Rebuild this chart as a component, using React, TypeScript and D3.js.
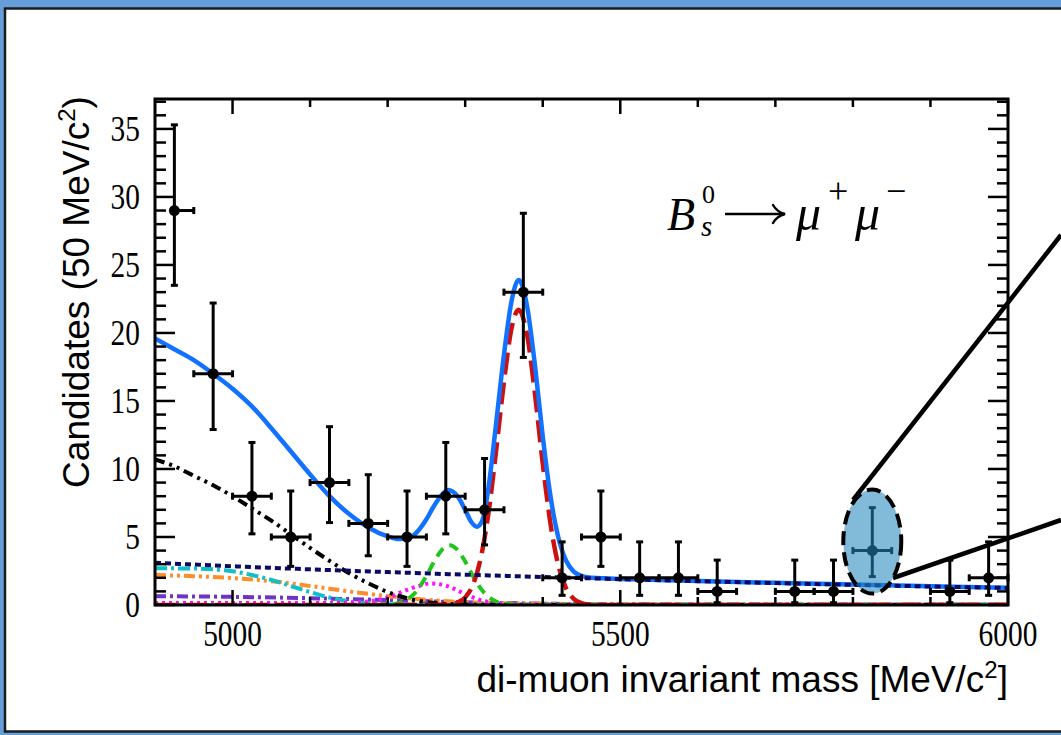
import React from "react";
import * as d3 from "d3";

const W = 1061;
const H = 735;

// Binned di-muon candidates, 50 MeV/c² bins (bin centres in MeV/c²)
const binCenters = [4925, 4975, 5025, 5075, 5125, 5175, 5225, 5275, 5325, 5375, 5425, 5475, 5525, 5575, 5625, 5675, 5725, 5775, 5825, 5875, 5925, 5975];
const counts = [29, 17, 8, 5, 9, 6, 5, 8, 7, 23, 2, 5, 2, 2, 1, 0, 1, 1, 4, 0, 1, 2];
const errLow = [23.5, 12.9, 5.23, 2.84, 6.06, 3.62, 2.84, 5.23, 4.42, 18.2, 0.71, 2.84, 0.71, 0.71, 0.17, 0, 0.17, 0.17, 2.09, 0, 0.17, 0.71];
const errHigh = [35.3, 22.2, 11.95, 8.38, 13.11, 9.58, 8.38, 11.95, 10.77, 28.8, 4.64, 8.38, 4.64, 4.64, 3.3, 1.84, 3.3, 3.3, 7.16, 1.84, 3.3, 4.64];
const binHalfWidth = 25;
const highlightedBin = 5825;

// Fit model: total and components, sampled as [mass, candidates]
const totalFit: [number, number][] = [
  [4900, 19.6], [4925, 18.8], [4950, 18.0], [4975, 17.0], [5000, 15.9], [5025, 14.6], [5050, 13.0],
  [5075, 11.3], [5100, 9.6], [5125, 8.0], [5150, 6.7], [5175, 5.7], [5200, 5.05], [5215, 4.85],
  [5230, 5.0], [5240, 5.5], [5250, 6.3], [5260, 7.3], [5270, 8.1], [5278, 8.45], [5290, 8.0],
  [5300, 7.0], [5308, 6.1], [5315, 5.75], [5322, 6.2], [5330, 8.6], [5340, 13.4], [5350, 18.4],
  [5360, 22.4], [5369, 23.9], [5380, 21.9], [5390, 17.6], [5400, 12.4], [5410, 8.0], [5420, 5.0],
  [5430, 3.27], [5440, 2.46], [5450, 2.14], [5460, 2.02], [5480, 1.96], [5500, 1.92], [5600, 1.77],
  [5700, 1.63], [5800, 1.5], [5900, 1.38], [6000, 1.27],
];
const bsSignal: [number, number][] = [
  [4900, 0], [5260, 0], [5270, 0.01], [5280, 0.05], [5290, 0.18], [5300, 0.56], [5310, 1.49],
  [5320, 3.43], [5330, 6.73], [5340, 11.4], [5350, 16.4], [5360, 20.4], [5369, 21.7], [5380, 19.8],
  [5390, 15.5], [5400, 10.4], [5410, 5.97], [5420, 2.94], [5430, 1.24], [5440, 0.45], [5450, 0.14],
  [5460, 0.04], [5470, 0.01], [5480, 0], [6000, 0],
];
const bdSignal: [number, number][] = [
  [4900, 0], [5180, 0], [5190, 0.01], [5200, 0.03], [5210, 0.09], [5220, 0.25], [5230, 0.6],
  [5240, 1.22], [5250, 2.14], [5260, 3.2], [5270, 4.06], [5280, 4.4], [5290, 4.06], [5300, 3.2],
  [5310, 2.14], [5320, 1.22], [5330, 0.6], [5340, 0.25], [5350, 0.09], [5360, 0.03], [5370, 0.01],
  [5380, 0], [6000, 0],
];
const combinatorial: [number, number][] = [
  [4900, 3.1], [5000, 2.85], [5100, 2.62], [5200, 2.42], [5300, 2.23], [5400, 2.06], [5500, 1.9],
  [5600, 1.75], [5700, 1.61], [5800, 1.48], [5900, 1.36], [6000, 1.25],
];
const partReco: [number, number][] = [
  [4900, 10.7], [4925, 10.2], [4950, 9.5], [4975, 8.8], [5000, 8.0], [5025, 7.1], [5050, 6.2],
  [5075, 5.2], [5100, 4.2], [5125, 3.25], [5150, 2.35], [5175, 1.6], [5200, 0.95], [5225, 0.5],
  [5250, 0.22], [5275, 0.08], [5300, 0.03], [5350, 0.01], [5400, 0], [6000, 0],
];
const semiLeptonicA: [number, number][] = [
  [4900, 2.7], [4950, 2.68], [4975, 2.62], [5000, 2.48], [5025, 2.2], [5050, 1.85], [5075, 1.4],
  [5100, 0.95], [5125, 0.55], [5150, 0.27], [5175, 0.12], [5200, 0.05], [5250, 0.02], [5300, 0.01],
  [6000, 0.01],
];
const semiLeptonicB: [number, number][] = [
  [4900, 2.2], [4950, 2.12], [5000, 1.98], [5050, 1.75], [5100, 1.4], [5150, 1.0], [5200, 0.65],
  [5250, 0.38], [5300, 0.2], [5350, 0.12], [5400, 0.09], [5500, 0.07], [6000, 0.05],
];
const semiLeptonicC: [number, number][] = [
  [4900, 0.65], [5000, 0.6], [5100, 0.5], [5200, 0.36], [5300, 0.2], [5400, 0.1], [5500, 0.05],
  [6000, 0.03],
];
const peakingMisId: [number, number][] = [
  [4900, 0.15], [5100, 0.15], [5150, 0.18], [5180, 0.3], [5200, 0.55], [5220, 1.0], [5240, 1.4],
  [5255, 1.58], [5270, 1.5], [5285, 1.2], [5300, 0.8], [5315, 0.45], [5330, 0.22], [5350, 0.08],
  [5400, 0.03], [6000, 0.02],
];

const xTicksMajor = [5000, 5500, 6000];
const xTickLabels = ["5000", "5500", "6000"];
const yTicksMajor = [0, 5, 10, 15, 20, 25, 30, 35];
const yTickLabels = ["0", "5", "10", "15", "20", "25", "30", "35"];

const plot = { left: 155, right: 1008, top: 99, bottom: 605 };
const SERIF = "'Liberation Serif', 'Times New Roman', serif";
const SANS = "'Liberation Sans', Arial, Helvetica, sans-serif";

export default function App() {
  const x = d3.scaleLinear().domain([4900, 6000]).range([plot.left, plot.right]);
  const y = d3.scaleLinear().domain([0, 37.2]).range([plot.bottom, plot.top]);
  const line = d3
    .line<[number, number]>()
    .x((d) => x(d[0]))
    .y((d) => y(d[1]))
    .curve(d3.curveMonotoneX);

  const xMinor = d3.range(5000, 6001, 100);
  const yMinor = d3.range(0, 38, 1);

  const curves: { data: [number, number][]; color: string; width: number; dash?: string }[] = [
    { data: semiLeptonicC, color: "#6a35c8", width: 4, dash: "11,4,3,4" },
    { data: semiLeptonicB, color: "#ff8c28", width: 4, dash: "11,4,3,4,3,4" },
    { data: semiLeptonicA, color: "#10c0c8", width: 4, dash: "12,4,3,4" },
    { data: peakingMisId, color: "#ff10ff", width: 4, dash: "3,4" },
    { data: partReco, color: "#000000", width: 4, dash: "10,5,3,5,3,5" },
    { data: bdSignal, color: "#22c41e", width: 4, dash: "10,7" },
    { data: bsSignal, color: "#cc1010", width: 4.5, dash: "22,8" },
    { data: totalFit, color: "#1272ff", width: 4.5 },
    { data: combinatorial, color: "#0a0a64", width: 4, dash: "6,4" },
  ];

  const hiIdx = binCenters.indexOf(highlightedBin);
  const hiX = x(binCenters[hiIdx]);
  const hiY = y(counts[hiIdx]);

  return (
    <svg
      width={W}
      height={H}
      viewBox={`0 0 ${W} ${H}`}
      style={{ position: "absolute", left: 0, top: 0, display: "block" }}
    >
      <rect x={0} y={0} width={W} height={H} fill="#659ed9" />
      <rect x={5} y={8.5} width={1120} height={723} fill="#ffffff" stroke="#1c1c1c" strokeWidth={2.5} />

      <defs>
        <clipPath id="plotClip">
          <rect x={plot.left} y={plot.top} width={plot.right - plot.left} height={plot.bottom - plot.top} />
        </clipPath>
      </defs>

      {/* fit curves */}
      <g clipPath="url(#plotClip)" fill="none">
        {curves.map((c, i) => (
          <path
            key={i}
            d={line(c.data) || ""}
            stroke={c.color}
            strokeWidth={c.width}
            strokeDasharray={c.dash}
          />
        ))}
      </g>

      {/* data points with Poisson error bars */}
      <g stroke="#000" strokeWidth={3} fill="#000">
        {binCenters.map((m, i) => {
          if (counts[i] === 0) return null;
          const cx = x(m);
          const cy = y(counts[i]);
          const x0 = x(Math.max(m - binHalfWidth, 4925));
          const x1 = x(Math.min(m + binHalfWidth, 6000));
          const yTop = y(errHigh[i]);
          const yBot = y(errLow[i]);
          return (
            <g key={m}>
              <line x1={cx} x2={cx} y1={yTop} y2={yBot} />
              <line x1={cx - 3.5} x2={cx + 3.5} y1={yTop} y2={yTop} />
              <line x1={cx - 3.5} x2={cx + 3.5} y1={yBot} y2={yBot} />
              <line x1={x0} x2={x1} y1={cy} y2={cy} />
              {m - binHalfWidth >= 4925 && <line x1={x0} x2={x0} y1={cy - 3.5} y2={cy + 3.5} />}
              {m + binHalfWidth <= 6000 && <line x1={x1} x2={x1} y1={cy - 3.5} y2={cy + 3.5} />}
              <circle cx={cx} cy={cy} r={5.5} stroke="none" />
            </g>
          );
        })}
      </g>

      {/* frame and ticks */}
      <g stroke="#000" fill="none">
        {xMinor.map((v) => {
          const len = xTicksMajor.includes(v) ? 15 : 8;
          return (
            <g key={`xt${v}`} strokeWidth={2.5}>
              <line x1={x(v)} x2={x(v)} y1={plot.bottom} y2={plot.bottom - len} />
              <line x1={x(v)} x2={x(v)} y1={plot.top} y2={plot.top + len} />
            </g>
          );
        })}
        {yMinor.map((v) => {
          const len = v % 5 === 0 ? 20 : 11;
          return (
            <g key={`yt${v}`} strokeWidth={2.5}>
              <line x1={plot.left} x2={plot.left + len} y1={y(v)} y2={y(v)} />
              <line x1={plot.right} x2={plot.right - len} y1={y(v)} y2={y(v)} />
            </g>
          );
        })}
        <rect
          x={plot.left}
          y={plot.top}
          width={plot.right - plot.left}
          height={plot.bottom - plot.top}
          strokeWidth={3}
        />
      </g>

      {/* tick labels (narrow serif digits) */}
      <g fontFamily={SERIF} fontSize={35} fill="#000">
        {yTicksMajor.map((v, i) => (
          <text
            key={`yl${v}`}
            transform={`translate(140,${y(v) + 12}) scale(0.84,1)`}
            textAnchor="end"
          >
            {yTickLabels[i]}
          </text>
        ))}
        {xTicksMajor.map((v, i) => (
          <text
            key={`xl${v}`}
            transform={`translate(${x(v)},646) scale(0.84,1)`}
            textAnchor="middle"
          >
            {xTickLabels[i]}
          </text>
        ))}
      </g>

      {/* axis titles */}
      <text x={1008} y={692} textAnchor="end" fontFamily={SANS} fontSize={37} fill="#000">
        di-muon invariant mass [MeV/c<tspan dy={-14} fontSize={24}>2</tspan>
        <tspan dy={14}>]</tspan>
      </text>
      <text
        transform="translate(89,292) rotate(-90)"
        textAnchor="middle"
        fontFamily={SANS}
        fontSize={37}
        fill="#000"
      >
        Candidates (50 MeV/c<tspan dy={-14} fontSize={24}>2</tspan>
        <tspan dy={14}>)</tspan>
      </text>

      {/* decay label */}
      <g fontFamily={SERIF} fill="#000">
        <text x={667} y={230} fontSize={46} fontStyle="italic">B</text>
        <text x={702} y={203} fontSize={26}>0</text>
        <text x={701} y={236} fontSize={29} fontStyle="italic">s</text>
        <path d="M725,214 H782" stroke="#000" strokeWidth={2.4} fill="none" />
        <path
          d="M773,205 Q777,212 785,214 Q777,216 773,223"
          stroke="#000"
          strokeWidth={2.4}
          fill="none"
          strokeLinecap="round"
        />
        <text x={796} y={230} fontSize={50} fontStyle="italic">μ</text>
        <text x={828} y={203} fontSize={36}>+</text>
        <text x={855} y={230} fontSize={50} fontStyle="italic">μ</text>
        <text x={886} y={203} fontSize={36}>−</text>
      </g>

      {/* highlighted candidate callout */}
      <g>
        <line x1={853} y1={500} x2={1061} y2={235} stroke="#000" strokeWidth={4.5} />
        <line x1={893} y1={578} x2={1061} y2={520} stroke="#000" strokeWidth={4.5} />
        <ellipse
          cx={hiX}
          cy={hiY - 9}
          rx={29}
          ry={52}
          fill="#2488be"
          fillOpacity={0.57}
          stroke="#000"
          strokeWidth={4}
          strokeDasharray="14,7"
        />
      </g>
    </svg>
  );
}
